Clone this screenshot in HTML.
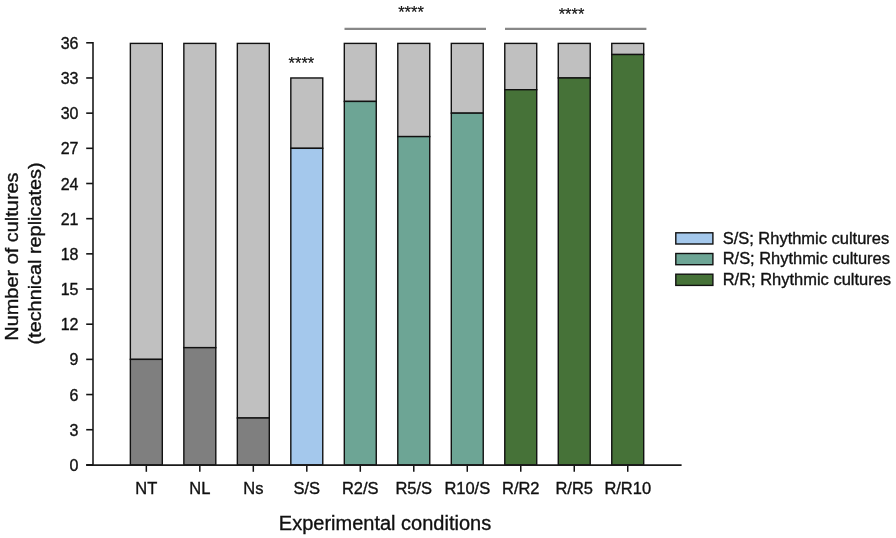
<!DOCTYPE html><html><head><meta charset="utf-8"><style>html,body{margin:0;padding:0;background:#fff;width:896px;height:538px;overflow:hidden}svg{display:block;will-change:transform}text{font-family:"Liberation Sans",sans-serif;fill:#111;stroke:#111;stroke-width:0.35px}</style></head><body>
<svg width="896" height="538" viewBox="0 0 896 538">
<rect x="130.36" y="43.40" width="31.95" height="315.98" fill="#c0c0c0" stroke="#111" stroke-width="1.4"/>
<rect x="130.36" y="359.38" width="31.95" height="105.52" fill="#7f7f7f" stroke="#111" stroke-width="1.4"/>
<line x1="146.33" y1="464.90" x2="146.33" y2="471.8" stroke="#111" stroke-width="1.5"/>
<text transform="translate(146.33,493.7) scale(1.03,1)" font-size="16" text-anchor="middle">NT</text>
<rect x="183.85" y="43.40" width="31.95" height="304.25" fill="#c0c0c0" stroke="#111" stroke-width="1.4"/>
<rect x="183.85" y="347.65" width="31.95" height="117.25" fill="#7f7f7f" stroke="#111" stroke-width="1.4"/>
<line x1="199.82" y1="464.90" x2="199.82" y2="471.8" stroke="#111" stroke-width="1.5"/>
<text transform="translate(199.82,493.7) scale(1.03,1)" font-size="16" text-anchor="middle">NL</text>
<rect x="237.34" y="43.40" width="31.95" height="374.60" fill="#c0c0c0" stroke="#111" stroke-width="1.4"/>
<rect x="237.34" y="418.00" width="31.95" height="46.90" fill="#7f7f7f" stroke="#111" stroke-width="1.4"/>
<line x1="253.31" y1="464.90" x2="253.31" y2="471.8" stroke="#111" stroke-width="1.5"/>
<text transform="translate(253.31,493.7) scale(1.03,1)" font-size="16" text-anchor="middle">Ns</text>
<rect x="290.82" y="77.97" width="31.95" height="70.35" fill="#c0c0c0" stroke="#111" stroke-width="1.4"/>
<rect x="290.82" y="148.32" width="31.95" height="316.57" fill="#a4c8ec" stroke="#111" stroke-width="1.4"/>
<line x1="306.80" y1="464.90" x2="306.80" y2="471.8" stroke="#111" stroke-width="1.5"/>
<text transform="translate(306.80,493.7) scale(1.03,1)" font-size="16" text-anchor="middle">S/S</text>
<rect x="344.31" y="43.40" width="31.95" height="58.03" fill="#c0c0c0" stroke="#111" stroke-width="1.4"/>
<rect x="344.31" y="101.43" width="31.95" height="363.47" fill="#6da595" stroke="#111" stroke-width="1.4"/>
<line x1="360.29" y1="464.90" x2="360.29" y2="471.8" stroke="#111" stroke-width="1.5"/>
<text transform="translate(360.29,493.7) scale(1.03,1)" font-size="16" text-anchor="middle">R2/S</text>
<rect x="397.80" y="43.40" width="31.95" height="93.20" fill="#c0c0c0" stroke="#111" stroke-width="1.4"/>
<rect x="397.80" y="136.60" width="31.95" height="328.30" fill="#6da595" stroke="#111" stroke-width="1.4"/>
<line x1="413.78" y1="464.90" x2="413.78" y2="471.8" stroke="#111" stroke-width="1.5"/>
<text transform="translate(413.78,493.7) scale(1.03,1)" font-size="16" text-anchor="middle">R5/S</text>
<rect x="451.29" y="43.40" width="31.95" height="69.75" fill="#c0c0c0" stroke="#111" stroke-width="1.4"/>
<rect x="451.29" y="113.15" width="31.95" height="351.75" fill="#6da595" stroke="#111" stroke-width="1.4"/>
<line x1="467.27" y1="464.90" x2="467.27" y2="471.8" stroke="#111" stroke-width="1.5"/>
<text transform="translate(467.27,493.7) scale(1.03,1)" font-size="16" text-anchor="middle">R10/S</text>
<rect x="504.78" y="43.40" width="31.95" height="46.30" fill="#c0c0c0" stroke="#111" stroke-width="1.4"/>
<rect x="504.78" y="89.70" width="31.95" height="375.20" fill="#467238" stroke="#111" stroke-width="1.4"/>
<line x1="520.76" y1="464.90" x2="520.76" y2="471.8" stroke="#111" stroke-width="1.5"/>
<text transform="translate(520.76,493.7) scale(1.03,1)" font-size="16" text-anchor="middle">R/R2</text>
<rect x="558.27" y="43.40" width="31.95" height="34.57" fill="#c0c0c0" stroke="#111" stroke-width="1.4"/>
<rect x="558.27" y="77.97" width="31.95" height="386.93" fill="#467238" stroke="#111" stroke-width="1.4"/>
<line x1="574.25" y1="464.90" x2="574.25" y2="471.8" stroke="#111" stroke-width="1.5"/>
<text transform="translate(574.25,493.7) scale(1.03,1)" font-size="16" text-anchor="middle">R/R5</text>
<rect x="611.76" y="43.40" width="31.95" height="11.12" fill="#c0c0c0" stroke="#111" stroke-width="1.4"/>
<rect x="611.76" y="54.52" width="31.95" height="410.38" fill="#467238" stroke="#111" stroke-width="1.4"/>
<line x1="627.74" y1="464.90" x2="627.74" y2="471.8" stroke="#111" stroke-width="1.5"/>
<text transform="translate(627.74,493.7) scale(1.03,1)" font-size="16" text-anchor="middle">R/R10</text>
<line x1="93" y1="42.00" x2="93" y2="464.90" stroke="#484848" stroke-width="2"/>
<line x1="86.2" y1="465.1" x2="681.6" y2="465.1" stroke="#1a1a1a" stroke-width="1.8"/>
<line x1="86.2" y1="464.90" x2="93" y2="464.90" stroke="#141414" stroke-width="1.6"/>
<text x="78.5" y="471.00" font-size="16" text-anchor="end">0</text>
<line x1="86.2" y1="429.72" x2="93" y2="429.72" stroke="#141414" stroke-width="1.6"/>
<text x="78.5" y="435.82" font-size="16" text-anchor="end">3</text>
<line x1="86.2" y1="394.55" x2="93" y2="394.55" stroke="#141414" stroke-width="1.6"/>
<text x="78.5" y="400.65" font-size="16" text-anchor="end">6</text>
<line x1="86.2" y1="359.38" x2="93" y2="359.38" stroke="#141414" stroke-width="1.6"/>
<text x="78.5" y="365.48" font-size="16" text-anchor="end">9</text>
<line x1="86.2" y1="324.20" x2="93" y2="324.20" stroke="#141414" stroke-width="1.6"/>
<text x="78.5" y="330.30" font-size="16" text-anchor="end">12</text>
<line x1="86.2" y1="289.02" x2="93" y2="289.02" stroke="#141414" stroke-width="1.6"/>
<text x="78.5" y="295.12" font-size="16" text-anchor="end">15</text>
<line x1="86.2" y1="253.85" x2="93" y2="253.85" stroke="#141414" stroke-width="1.6"/>
<text x="78.5" y="259.95" font-size="16" text-anchor="end">18</text>
<line x1="86.2" y1="218.67" x2="93" y2="218.67" stroke="#141414" stroke-width="1.6"/>
<text x="78.5" y="224.77" font-size="16" text-anchor="end">21</text>
<line x1="86.2" y1="183.50" x2="93" y2="183.50" stroke="#141414" stroke-width="1.6"/>
<text x="78.5" y="189.60" font-size="16" text-anchor="end">24</text>
<line x1="86.2" y1="148.32" x2="93" y2="148.32" stroke="#141414" stroke-width="1.6"/>
<text x="78.5" y="154.42" font-size="16" text-anchor="end">27</text>
<line x1="86.2" y1="113.15" x2="93" y2="113.15" stroke="#141414" stroke-width="1.6"/>
<text x="78.5" y="119.25" font-size="16" text-anchor="end">30</text>
<line x1="86.2" y1="77.97" x2="93" y2="77.97" stroke="#141414" stroke-width="1.6"/>
<text x="78.5" y="84.07" font-size="16" text-anchor="end">33</text>
<line x1="86.2" y1="42.80" x2="93" y2="42.80" stroke="#141414" stroke-width="1.6"/>
<text x="78.5" y="48.90" font-size="16" text-anchor="end">36</text>
<text transform="translate(18.3,256.6) rotate(-90)" font-size="19" text-anchor="middle" textLength="168.3" lengthAdjust="spacingAndGlyphs">Number of cultures</text>
<text transform="translate(41,253.5) rotate(-90)" font-size="19" text-anchor="middle" textLength="182" lengthAdjust="spacingAndGlyphs">(technical replicates)</text>
<text x="385" y="530.3" font-size="20" text-anchor="middle">Experimental conditions</text>
<line x1="344.5" y1="28.9" x2="486" y2="28.9" stroke="#888" stroke-width="2.3"/>
<line x1="505.0" y1="28.9" x2="646.4" y2="28.9" stroke="#888" stroke-width="2.3"/>
<text x="411" y="18.3" font-size="16.5" text-anchor="middle" style="stroke-width:0.2px">****</text>
<text x="571.5" y="19.7" font-size="16.5" text-anchor="middle" style="stroke-width:0.2px">****</text>
<text x="301.4" y="68.8" font-size="16.5" text-anchor="middle" style="stroke-width:0.2px">****</text>
<rect x="675.8" y="232.80" width="37.1" height="11.2" fill="#a4c8ec" stroke="#111" stroke-width="1.4"/>
<text x="722.7" y="243.60" font-size="16" textLength="166.5" lengthAdjust="spacingAndGlyphs">S/S; Rhythmic cultures</text>
<rect x="675.8" y="253.50" width="37.1" height="11.2" fill="#6da595" stroke="#111" stroke-width="1.4"/>
<text x="722.7" y="264.30" font-size="16" textLength="167.2" lengthAdjust="spacingAndGlyphs">R/S; Rhythmic cultures</text>
<rect x="675.8" y="274.20" width="37.1" height="11.2" fill="#467238" stroke="#111" stroke-width="1.4"/>
<text x="722.7" y="285.00" font-size="16" textLength="168.4" lengthAdjust="spacingAndGlyphs">R/R; Rhythmic cultures</text>
</svg></body></html>
